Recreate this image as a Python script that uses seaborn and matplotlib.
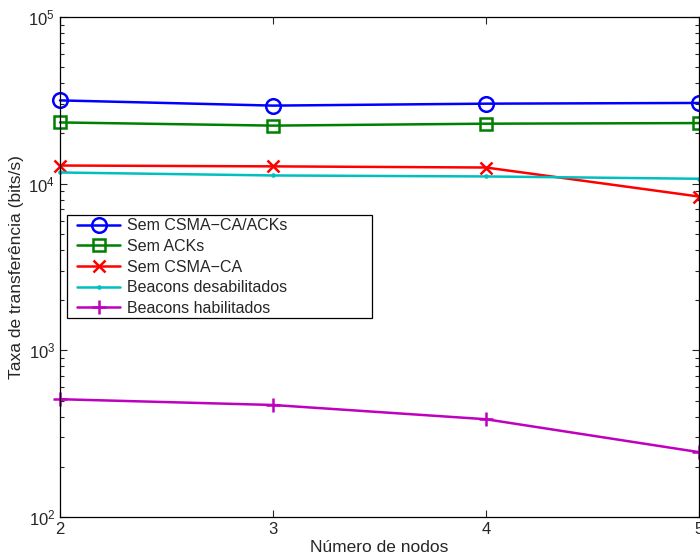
import matplotlib
matplotlib.use("Agg")
import matplotlib.pyplot as plt
from matplotlib.patches import Rectangle
import seaborn as sns
import numpy as np
import pandas as pd

# Data
nodes = [2, 3, 4, 5]
sem_csma_acks = [31600, 29400, 30200, 30500]
sem_acks = [23300, 22300, 22900, 23100]
sem_csma = [12850, 12700, 12500, 8370]
beacons_off = [11670, 11200, 11050, 10700]
beacons_on = [509, 470, 386, 245]

labels = ["Sem CSMA\u2212CA/ACKs", "Sem ACKs", "Sem CSMA\u2212CA",
          "Beacons desabilitados", "Beacons habilitados"]
series = [sem_csma_acks, sem_acks, sem_csma, beacons_off, beacons_on]
colors = ["#0000ff", "#008000", "#ff0000", "#00bfbf", "#bf00bf"]
markers = ["o", "s", "x", ".", "+"]
msizes = [10.5, 8.5, 8, 3, 10]

sns.set_style("ticks")
plt.rcParams["font.family"] = ["Liberation Sans", "DejaVu Sans"]
plt.rcParams["mathtext.fontset"] = "custom"
plt.rcParams["mathtext.rm"] = "Liberation Sans"
plt.rcParams["mathtext.it"] = "Liberation Sans:italic"

fig = plt.figure(figsize=(7.0, 5.58), dpi=100)
ax = fig.add_axes([60 / 700, 1 - 517 / 558, 639 / 700, 500 / 558])

for vals, lab, col, mk, ms in zip(series, labels, colors, markers, msizes):
    df = pd.DataFrame({"nodes": nodes, "rate": vals})
    sns.lineplot(data=df, x="nodes", y="rate", ax=ax, color=col, marker=mk,
                 markersize=ms, linewidth=1.8, label=lab,
                 markerfacecolor="none" if mk in ("o", "s") else col,
                 markeredgecolor=col, markeredgewidth=1.8, clip_on=False)

ax.set_yscale("log")
ax.set_ylim(1e2, 1e5)
ax.set_xlim(2, 5)
ax.set_xticks(nodes)
ax.set_yticks([1e2, 1e3, 1e4, 1e5])
ax.set_yticklabels([r"$10^{2}$", r"$10^{3}$", r"$10^{4}$", r"$10^{5}$"])
ax.tick_params(which="both", direction="in", top=True, right=True,
               labelsize=12, width=0.8)
ax.tick_params(which="major", length=5)
ax.tick_params(which="minor", length=3)
for sp in ax.spines.values():
    sp.set_linewidth(0.9)
    sp.set_color("black")

ax.set_xlabel("Número de nodos", fontsize=12.5, labelpad=2)
ax.set_ylabel("Taxa de transferência (bits/s)", fontsize=12.5, labelpad=3)

# MATLAB style legend: wide box with blank space on the right
leg = ax.legend(loc="center left", bbox_to_anchor=(0.0266, 0.5),
                borderaxespad=0, borderpad=0, fontsize=11.5, frameon=False,
                handlelength=2.7, labelspacing=0.35, handletextpad=0.4)
leg.set_zorder(6)
box = Rectangle((0.011, 0.398), 0.477, 0.206, transform=ax.transAxes,
                facecolor="white", edgecolor="black", linewidth=0.9, zorder=5)
ax.add_patch(box)

fig.savefig("out.png", dpi=100)
